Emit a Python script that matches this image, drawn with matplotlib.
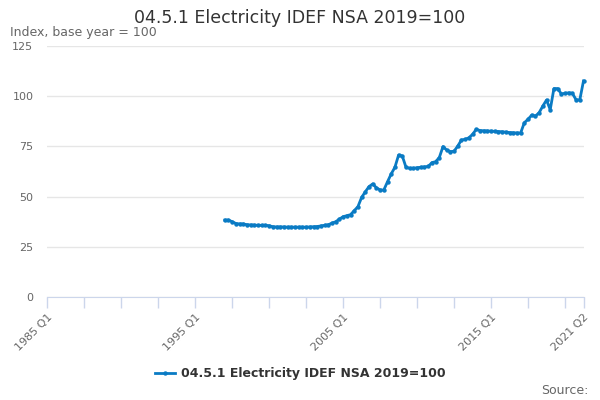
import matplotlib
matplotlib.use("Agg")
import matplotlib.pyplot as plt

title = "04.5.1 Electricity IDEF NSA 2019=100"
subtitle = "Index, base year = 100"
series_name = "04.5.1 Electricity IDEF NSA 2019=100"

# full category axis: 1985 Q1 .. 2021 Q2
axis_quarters = [f"{y} Q{q}" for y in range(1985, 2022) for q in range(1, 5)][:146]
labelled_ticks = ["1985 Q1", "1995 Q1", "2005 Q1", "2015 Q1", "2021 Q2"]

# data quarters 1997 Q1 .. 2021 Q2
data_quarters = [f"{y} Q{q}" for y in range(1997, 2022) for q in range(1, 5)][:98]
values = [
    38.3, 38.3, 37.5, 36.6,   # 1997
    36.4, 36.4, 36.0, 35.9,   # 1998
    35.8, 35.7, 35.7, 35.7,   # 1999
    35.5, 35.0, 34.9, 34.9,   # 2000
    34.9, 34.8, 34.8, 34.8,   # 2001
    34.8, 34.8, 34.8, 34.9,   # 2002
    35.0, 35.1, 35.4, 35.7,   # 2003
    36.0, 36.8, 37.5, 38.8,   # 2004
    40.0, 40.5, 41.0, 43.0,   # 2005
    45.0, 49.6, 52.4, 55.0,   # 2006
    56.3, 54.4, 53.3, 53.3,   # 2007
    57.4, 61.3, 64.6, 70.7,   # 2008
    70.2, 64.6, 64.1, 64.1,   # 2009
    64.4, 64.6, 64.8, 65.0,   # 2010
    66.9, 67.4, 69.4, 74.9,   # 2011
    73.2, 72.4, 72.6, 75.2,   # 2012
    78.2, 78.5, 79.3, 81.0,   # 2013
    83.5, 82.9, 82.8, 82.7,   # 2014
    82.6, 82.5, 82.4, 82.3,   # 2015
    82.1, 81.9, 81.8, 81.7,   # 2016
    81.7, 86.8, 88.5, 90.6,   # 2017
    90.1, 91.8, 95.1, 98.1,   # 2018
    93.3, 103.8, 103.8, 101.2,  # 2019
    101.4, 101.7, 101.4, 98.2,  # 2020
    98.2, 107.6,              # 2021
]
y_ticks = [0, 25, 50, 75, 100, 125]

line_color = "#0a7bc4"
fig = plt.figure(figsize=(6, 4), dpi=100)
ax = fig.add_axes([47.3 / 600, 1 - 297 / 400, (583.5 - 47.3) / 600, (297 - 46) / 400])

pos = {q: i for i, q in enumerate(axis_quarters)}
xs = [pos[q] for q in data_quarters]
ax.plot(xs, values, color=line_color, lw=2, marker="o", ms=3.2,
        markeredgewidth=0, label=series_name, clip_on=False, zorder=3)

ax.set_xlim(0, len(axis_quarters) - 1)
ax.set_ylim(0, 125)
ax.set_yticks(y_ticks)
ax.set_yticklabels([str(v) for v in y_ticks], color="#666666", fontsize=8)
ax.grid(axis="y", color="#e6e6e6", lw=1)
ax.set_axisbelow(True)

tick_pos = list(range(0, len(axis_quarters) - 1, 10)) + [len(axis_quarters) - 1]
ax.set_xticks(tick_pos)
ax.set_xticklabels([axis_quarters[p] if axis_quarters[p] in labelled_ticks else "" for p in tick_pos],
                   rotation=45, ha="right", va="top", rotation_mode="anchor",
                   color="#666666", fontsize=8)
ax.tick_params(axis="x", length=8, color="#ccd6eb", width=1, pad=3)
ax.tick_params(axis="y", length=0, pad=10)
for s in ["top", "right", "left"]:
    ax.spines[s].set_visible(False)
ax.spines["bottom"].set_color("#ccd6eb")

fig.text(0.5, 0.955, title, ha="center", va="center", fontsize=12.5, color="#333333")
fig.text(10 / 600, 0.918, subtitle, ha="left", va="center", fontsize=9, color="#666666")
leg = fig.legend(loc="center", bbox_to_anchor=(0.5, 1 - 374 / 400), frameon=False,
                 prop={"weight": "bold", "size": 9}, handlelength=1.6, handletextpad=0.5)
for t in leg.get_texts():
    t.set_color("#333333")
fig.text(589 / 600, 1 - 390 / 400, "Source:", ha="right", va="center", fontsize=9, color="#666666")

fig.savefig("out.png", dpi=100)
